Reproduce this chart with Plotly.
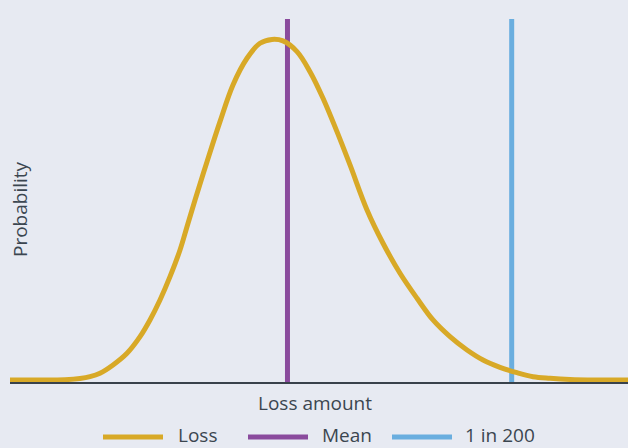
import plotly.graph_objects as go

# Loss distribution curve (x = loss amount, y = relative probability)
loss_x = [0, 4.85, 8.90, 11.33, 12.94, 14.56, 16.67, 18.93, 21.04, 22.65, 24.27, 25.89,
          27.51, 28.64, 29.94, 31.88, 33.98, 36.08, 38.35, 40.45, 42.39, 44.17, 46.44,
          48.54, 50.65, 52.91, 55.02, 57.77, 60.36, 63.11, 65.86, 68.45, 71.20, 73.95,
          76.54, 79.29, 82.04, 84.63, 87.38, 90.61, 94.66, 100]
loss_y = [0, 0, 0.0009, 0.0044, 0.0097, 0.0197, 0.0441, 0.0784, 0.1272, 0.1762, 0.2349,
          0.3034, 0.3818, 0.4502, 0.5286, 0.6411, 0.7586, 0.8664, 0.9448, 0.9888, 1.0,
          0.9956, 0.9642, 0.9054, 0.8273, 0.7292, 0.6314, 0.4993, 0.4015, 0.3134, 0.2399,
          0.1762, 0.1272, 0.0881, 0.0587, 0.0373, 0.0214, 0.0097, 0.0050, 0.0015, 0, 0]

mean_x = 44.9
one_in_200_x = 81.18

y_min = -0.0059
y_max = 1.060
x_min = 0
x_max = 100

legend_labels = ["Loss", "Mean", "1 in 200"]

c_loss = "#d8a927"
c_mean = "#8a4b9d"
c_200 = "#6aaedf"
bg = "#e7eaf2"
txt = "#3b4650"
font_family = "Open Sans, sans-serif"

fig = go.Figure()
fig.add_trace(go.Scatter(x=[mean_x, mean_x], y=[y_min, y_max], mode="lines", name=legend_labels[1],
                         line=dict(color=c_mean, width=5), showlegend=False, hoverinfo="skip"))
fig.add_trace(go.Scatter(x=[one_in_200_x, one_in_200_x], y=[y_min, y_max], mode="lines",
                         name=legend_labels[2], line=dict(color=c_200, width=5), showlegend=False,
                         hoverinfo="skip"))
fig.add_trace(go.Scatter(x=loss_x, y=loss_y, mode="lines", name=legend_labels[0],
                         line=dict(color=c_loss, width=5, shape="spline", smoothing=1.0),
                         showlegend=False, hoverinfo="skip"))

W, H = 628, 448
L, R, T, B = 10, 0, 19, 66
pw, ph = W - L - R, H - T - B


def px_x(p):
    return (p - L) / pw


def px_y(p):
    return (H - B - p) / ph


shapes = []
annotations = []
legend_colors = [c_loss, c_mean, c_200]
line_starts = [103, 248, 392]
text_starts = [176, 320, 463]
for lab, col, ls, ts in zip(legend_labels, legend_colors, line_starts, text_starts):
    shapes.append(dict(type="line", xref="paper", yref="paper",
                       x0=px_x(ls), x1=px_x(ls + 60), y0=px_y(437), y1=px_y(437),
                       line=dict(color=col, width=5)))
    annotations.append(dict(text=lab, xref="paper", yref="paper", x=px_x(ts), y=px_y(435),
                            xanchor="left", yanchor="middle", showarrow=False,
                            font=dict(size=19, color=txt, family=font_family)))

annotations.append(dict(text="Loss amount", xref="paper", yref="paper", x=px_x(315), y=px_y(403),
                        xanchor="center", yanchor="middle", showarrow=False,
                        font=dict(size=19, color=txt, family=font_family)))
annotations.append(dict(text="Probability", xref="paper", yref="paper", x=px_x(20), y=px_y(209),
                        xanchor="center", yanchor="middle", showarrow=False, textangle=-90,
                        font=dict(size=19, color=txt, family=font_family)))

fig.update_layout(
    width=W, height=H,
    margin=dict(l=L, r=R, t=T, b=B),
    paper_bgcolor=bg, plot_bgcolor=bg,
    xaxis=dict(range=[x_min, x_max], showgrid=False, zeroline=False, showticklabels=False,
               ticks="", showline=True, linecolor="#39424b", linewidth=2, fixedrange=True),
    yaxis=dict(range=[y_min, y_max], showgrid=False, zeroline=False, showticklabels=False,
               ticks="", showline=False, fixedrange=True),
    shapes=shapes, annotations=annotations,
    showlegend=False,
)

fig.write_html("out.html", config={"displayModeBar": False},
               post_script="document.body.style.margin='0';document.body.style.overflow='hidden';document.body.style.background='" + bg + "';")
